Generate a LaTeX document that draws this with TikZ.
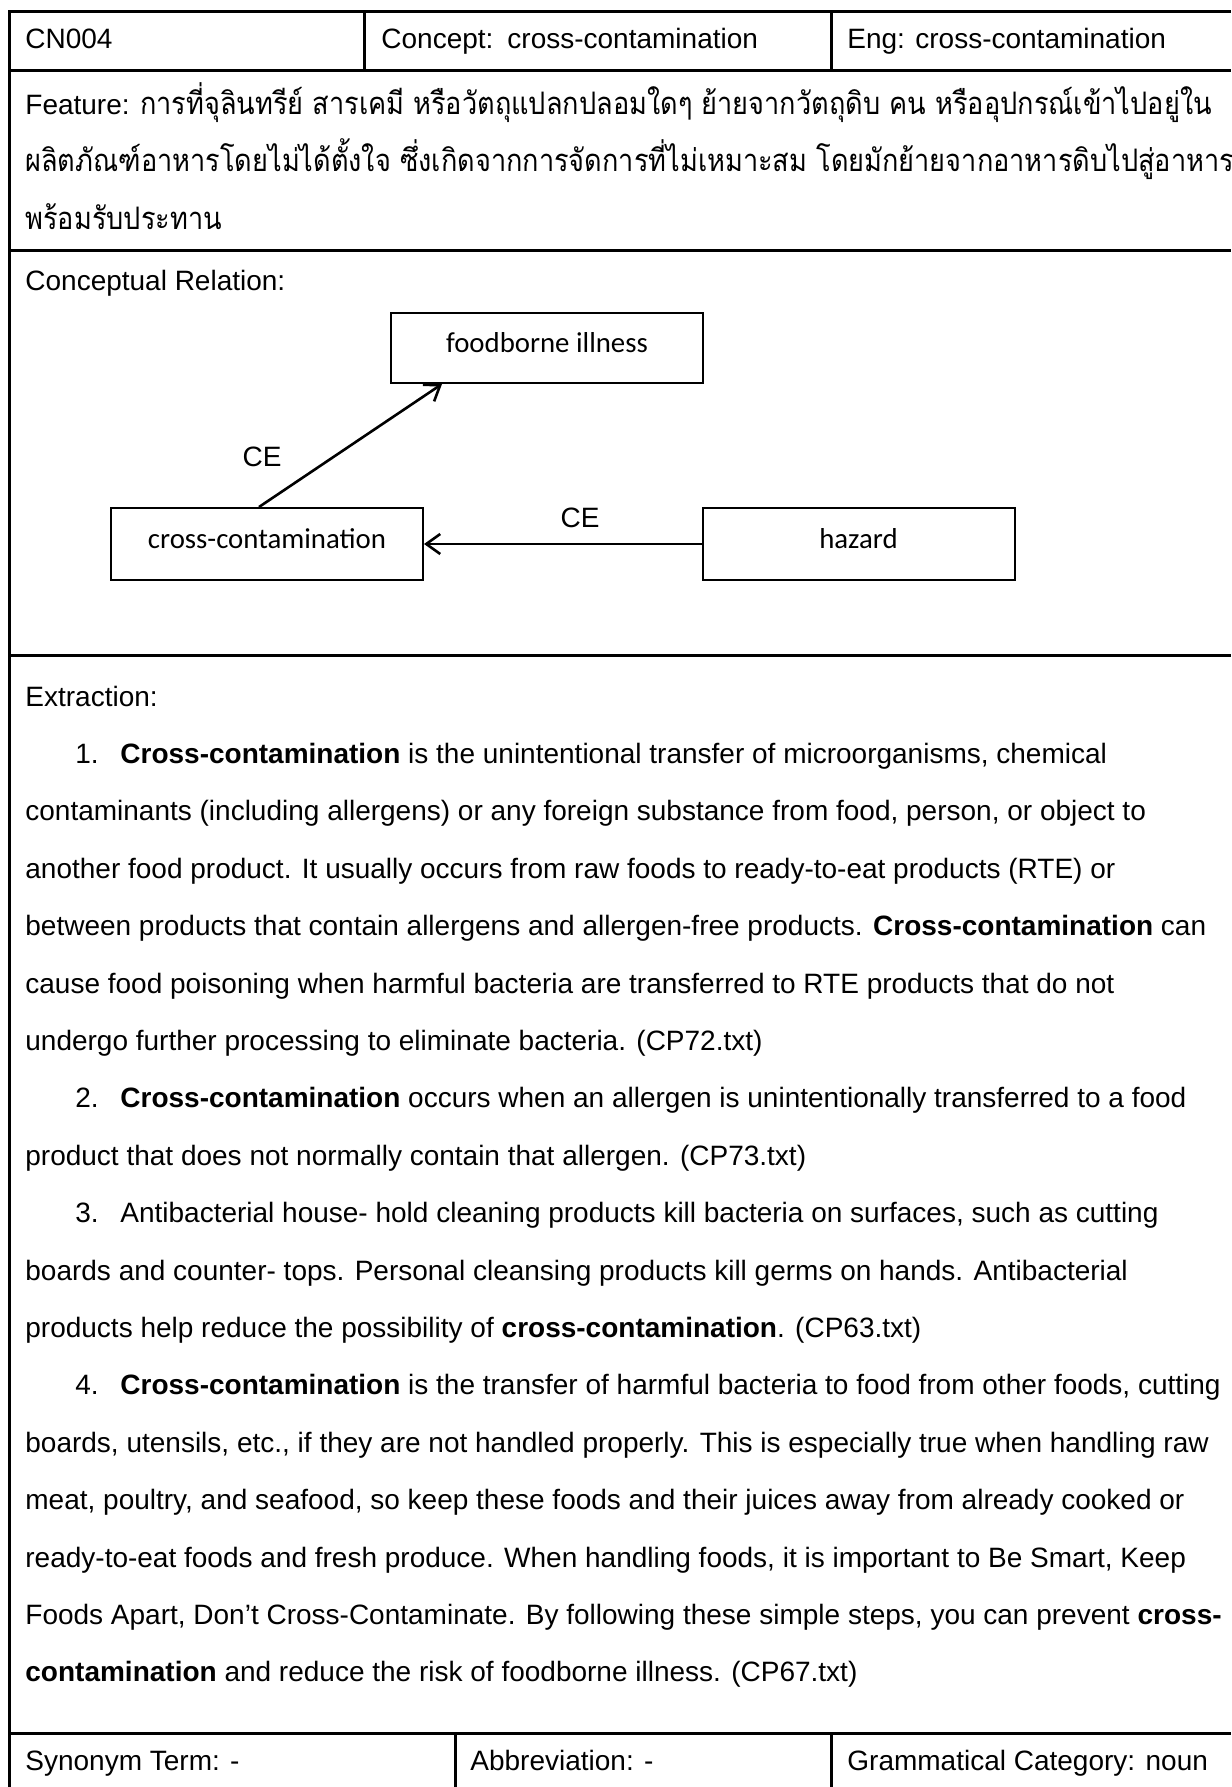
\documentclass[tikz,border=0pt]{standalone}
\usepackage{fontspec}
\setmainfont{Liberation Sans}
\newfontfamily\thaifont[Script=Thai, FakeStretch=0.875]{Loma}
\newfontfamily\boxfont{Carlito}
\usetikzlibrary{arrows.meta}

\begin{document}
\begin{tikzpicture}[x=0.5pt, y=-0.5pt, font=\fontsize{14}{17}\selectfont,
        txt/.style={anchor=base west, inner sep=0pt},
        thai/.style={font=\thaifont\fontsize{15.5}{17}\selectfont},
        concept/.style={draw, line width=1pt, minimum width=156pt, minimum height=36pt, inner sep=0pt,
            text height=10pt, text depth=6pt, font=\boxfont\fontsize{14.4}{17}\selectfont},
        rel/.style={line width=1.3pt, -{Straight Barb[length=7pt, width=10pt]}},
        rule/.style={line width=1.5pt}]
    \useasboundingbox (0,0) rectangle (1231,1787);

    % table
    \draw[rule] (9,1787) -- (9,12) -- (1231,12);
    \draw[rule] (9,71) -- (1231,71);
    \draw[rule] (9,251) -- (1231,251);
    \draw[rule] (9,655) -- (1231,655);
    \draw[rule] (9,1733) -- (1231,1733);
    \draw[rule] (364,12) -- (364,71);
    \draw[rule] (831,12) -- (831,71);
    \draw[rule] (455,1733) -- (455,1787);
    \draw[rule] (831,1733) -- (831,1787);

    \node[txt] (cnid) at (25,49) {CN004};
    \node[txt] (cnconcept) at (381,49) {Concept:\hspace{7pt}cross-contamination};
    \node[txt] (cneng) at (847,49) {Eng: cross-contamination};

    \node[txt] (feat1) at (25,115) {Feature: {\thaifont\fontsize{15.5}{17}\selectfont การที่จุลินทรีย์ สารเคมี หรือวัตถุแปลกปลอมใดๆ ย้ายจากวัตถุดิบ คน หรืออุปกรณ์เข้าไปอยู่ใน}};
    \node[txt, thai] (feat2) at (25,172) {ผลิตภัณฑ์อาหารโดยไม่ได้ตั้งใจ ซึ่งเกิดจากการจัดการที่ไม่เหมาะสม โดยมักย้ายจากอาหารดิบไปสู่อาหาร};
    \node[txt, thai] (feat3) at (25,230) {พร้อมรับประทาน};

    \node[txt] (relhead) at (25,290) {Conceptual Relation:};

    % concept map
    \node[concept, minimum height=35pt] (fb) at (547,348) {foodborne illness};
    \node[concept] (cc) at (267,544) {cross-contamination};
    \node[concept] (hz) at (858.5,544) {hazard};

    \draw[rel] ([xshift=-4pt]cc.north) -- ([xshift=26pt]fb.south west);
    \draw[rel] (hz) -- (cc);
    \node (ce1) at (262,457) {CE};
    \node (ce2) at (580,518) {CE};

    % extraction
    \node[txt] (exhead) at (25,706) {Extraction:};

    \node[txt] (n1) at (75,763) {1.};
    \node[txt] (e1) at (120,763) {\textbf{Cross-contamination} is the unintentional transfer of microorganisms, chemical};
    \node[txt] (e2) at (25,820) {contaminants (including allergens) or any foreign substance from food, person, or object to};
    \node[txt] (e3) at (25,878) {another food product. It usually occurs from raw foods to ready-to-eat products (RTE) or};
    \node[txt] (e4) at (25,935) {between products that contain allergens and allergen-free products. \textbf{Cross-contamination} can};
    \node[txt] (e5) at (25,993) {cause food poisoning when harmful bacteria are transferred to RTE products that do not};
    \node[txt] (e6) at (25,1050) {undergo further processing to eliminate bacteria. (CP72.txt)};

    \node[txt] (n2) at (75,1107) {2.};
    \node[txt] (e7) at (120,1107) {\textbf{Cross-contamination} occurs when an allergen is unintentionally transferred to a food};
    \node[txt] (e8) at (25,1165) {product that does not normally contain that allergen. (CP73.txt)};

    \node[txt] (n3) at (75,1222) {3.};
    \node[txt] (e9) at (120,1222) {Antibacterial house- hold cleaning products kill bacteria on surfaces, such as cutting};
    \node[txt] (e10) at (25,1280) {boards and counter- tops. Personal cleansing products kill germs on hands. Antibacterial};
    \node[txt] (e11) at (25,1337) {products help reduce the possibility of \textbf{cross-contamination}. (CP63.txt)};

    \node[txt] (n4) at (75,1394) {4.};
    \node[txt] (e12) at (120,1394) {\textbf{Cross-contamination} is the transfer of harmful bacteria to food from other foods, cutting};
    \node[txt] (e13) at (25,1452) {boards, utensils, etc., if they are not handled properly. This is especially true when handling raw};
    \node[txt] (e14) at (25,1509) {meat, poultry, and seafood, so keep these foods and their juices away from already cooked or};
    \node[txt] (e15) at (25,1567) {ready-to-eat foods and fresh produce. When handling foods, it is important to Be Smart, Keep};
    \node[txt] (e16) at (25,1624) {Foods Apart, Don’t Cross-Contaminate. By following these simple steps, you can prevent \textbf{cross-}};
    \node[txt] (e17) at (25,1681) {\textbf{contamination} and reduce the risk of foodborne illness. (CP67.txt)};

    \node[txt] (syn) at (25,1770) {Synonym Term: -};
    \node[txt] (abbr) at (470,1770) {Abbreviation: -};
    \node[txt] (gram) at (847,1770) {Grammatical Category: noun};
\end{tikzpicture}
\end{document}
